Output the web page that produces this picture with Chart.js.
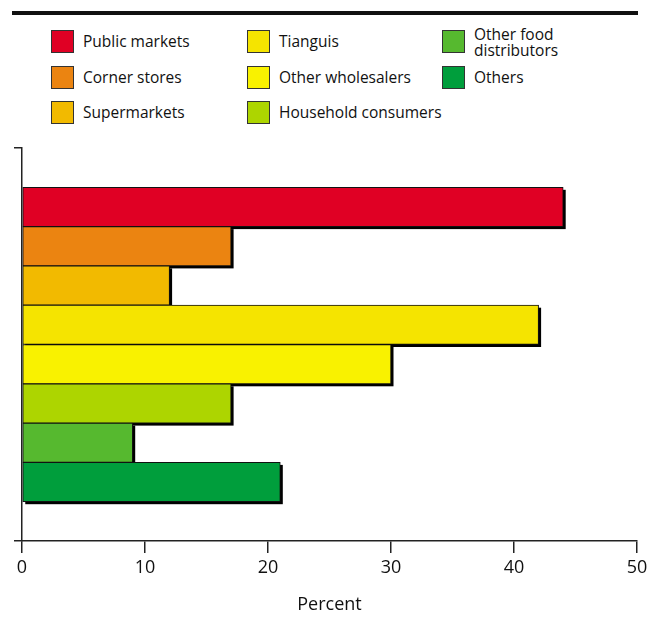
<!DOCTYPE html>
<html>
<head>
<meta charset="utf-8">
<script src="https://cdn.jsdelivr.net/npm/chart.js@4"></script>
<style>
  html, body { margin: 0; padding: 0; background: #fff; }
  #wrap { position: relative; width: 649px; height: 624px; }
  #rule { position: absolute; left: 12px; top: 11px; width: 626px; height: 4px; background: #111; }
  #legend {
    position: absolute; left: 51px; top: 30px;
    display: grid; grid-auto-flow: column;
    grid-template-rows: repeat(3, 35.5px);
    grid-template-columns: 196px 195px 180px;
    font-family: 'Open Sans', sans-serif; font-size: 15.5px; color: #111;
  }
  .item { display: flex; align-items: flex-start; }
  .box { width: 23px; height: 23px; border: 1px solid #333; box-sizing: border-box; flex: none; }
  .lbl { margin-left: 9px; line-height: 16px; margin-top: 3px; }
  .lbl.two { margin-top: -4px; }
  canvas { position: absolute; left: 0; top: 0; }
</style>
</head>
<body>
<div id="wrap">
  <div id="rule"></div>
  <div id="legend"></div>
  <canvas id="chart" width="649" height="624"></canvas>
</div>
<script>
// ===== Data =====
const categories = ['Public markets', 'Corner stores', 'Supermarkets', 'Tianguis',
  'Other wholesalers', 'Household consumers', 'Other food distributors', 'Others'];
const percents = [44, 17, 12, 42, 30, 17, 9, 21];
const colors = ['#e00024', '#eb8411', '#f2ba00', '#f5e400',
  '#f9f200', '#add500', '#56b92f', '#009e3c'];
const xTicks = [0, 10, 20, 30, 40, 50];

// ===== Legend (column-major, like the original) =====
const legend = document.getElementById('legend');
categories.forEach((name, i) => {
  const item = document.createElement('div');
  item.className = 'item';
  const two = name === 'Other food distributors';
  const text = two ? 'Other food<br>distributors' : name;
  item.innerHTML = `<span class="box" style="background:${colors[i]}"></span><span class="lbl${two ? ' two' : ''}">${text}</span>`;
  legend.appendChild(item);
});

// empty slot above and below the bars, like the source
const labels = [' ', ...categories, '  '];
const values = [null, ...percents, null];
const barColors = ['#fff', ...colors, '#fff'];

// ===== Drop shadow behind bars =====
// BarElement clips to its own rect, so canvas shadows get cut off;
// paint an offset black rect under each bar instead
const barShadow = {
  id: 'barShadow',
  beforeDatasetsDraw(chart) {
    const ctx = chart.ctx;
    const off = 2.5;
    ctx.save();
    ctx.fillStyle = '#000';
    chart.getDatasetMeta(0).data.forEach((bar, i) => {
      if (values[i] == null) return;
      const { x, y, base, height } = bar.getProps(['x', 'y', 'base', 'height'], true);
      ctx.fillRect(base + off, y - height / 2 + off, x - base, height);
    });
    ctx.restore();
  }
};

new Chart(document.getElementById('chart'), {
  type: 'bar',
  data: {
    labels: labels,
    datasets: [{
      data: values,
      backgroundColor: barColors,
      borderColor: '#111',
      borderWidth: 1,
      borderSkipped: false,
      barPercentage: 1,
      categoryPercentage: 1
    }]
  },
  options: {
    indexAxis: 'y',
    responsive: false,
    animation: false,
    layout: { padding: { top: 148, right: 12, left: 0, bottom: 0 } },
    plugins: { legend: { display: false }, tooltip: { enabled: false } },
    scales: {
      x: {
        min: 0, max: 50,
        afterBuildTicks: s => { s.ticks = xTicks.map(v => ({ value: v })); },
        afterFit: s => { s.height = 83; s.paddingLeft = 0; s.paddingRight = 0; },
        grid: { drawOnChartArea: false, color: '#222', lineWidth: 1.5, tickLength: 12 },
        border: { color: '#222', width: 1.5 },
        ticks: { color: '#111', padding: 4, font: { family: 'Open Sans', size: 18 } },
        title: {
          display: true, text: 'Percent', color: '#111',
          font: { family: 'Open Sans', size: 18 },
          padding: { top: 0, bottom: 8 }
        }
      },
      y: {
        afterFit: s => { s.width = 22; },
        grid: {
          drawOnChartArea: false, lineWidth: 1.5, tickLength: 8,
          color: c => (c.type !== 'tick' || c.index === 0) ? '#222' : 'rgba(0,0,0,0)'
        },
        border: { color: '#222', width: 1.5 },
        ticks: { display: false }
      }
    }
  },
  plugins: [barShadow]
});
</script>
</body>
</html>
